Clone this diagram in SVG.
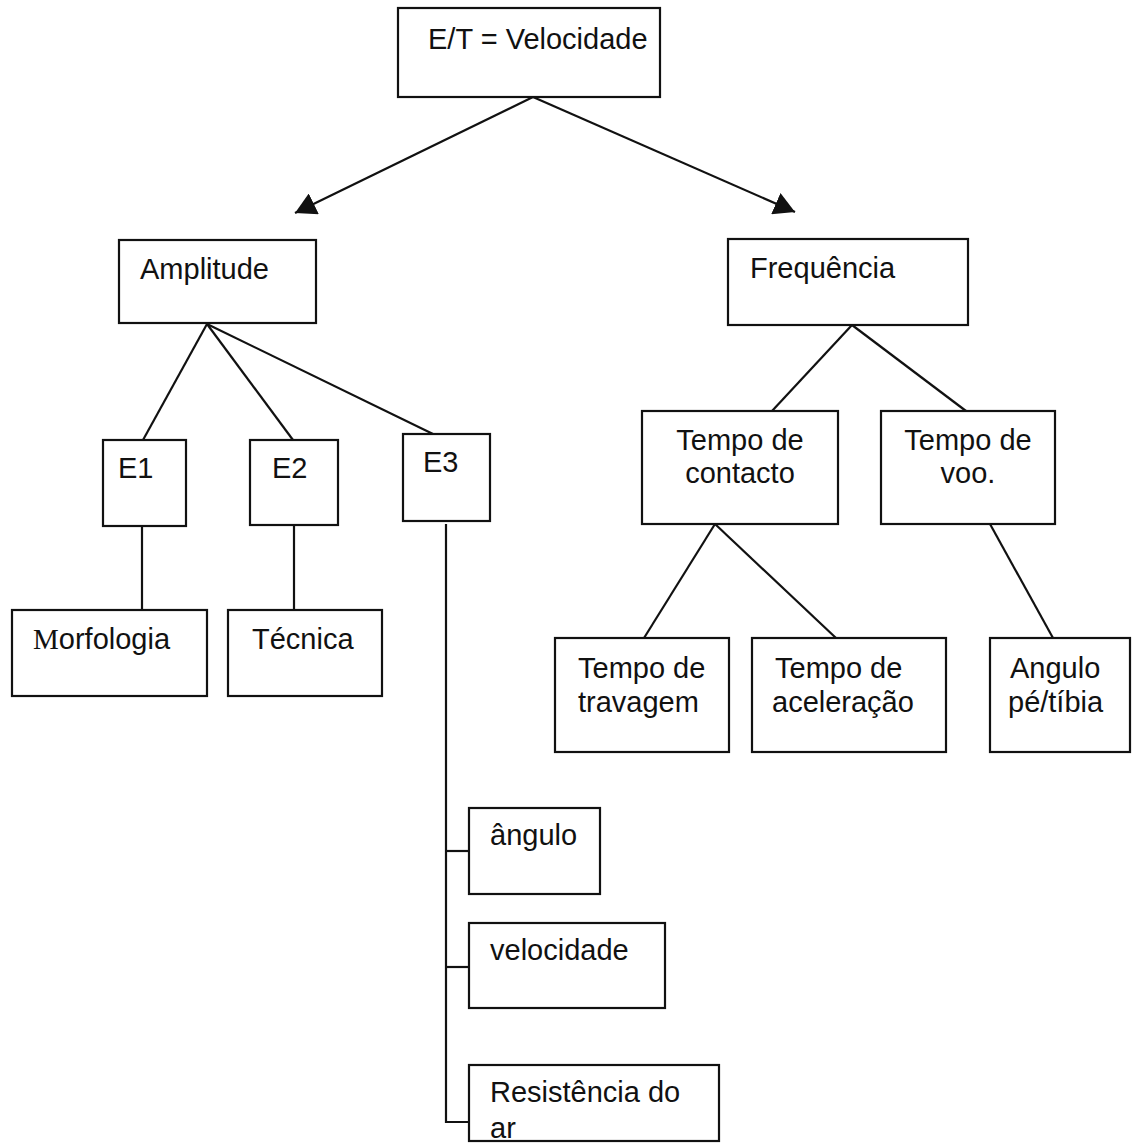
<svg xmlns="http://www.w3.org/2000/svg" width="1141" height="1148" viewBox="0 0 1141 1148">
<style>
rect.n{fill:#fff;stroke:#111;stroke-width:2.2}
text{font-family:"Liberation Sans",Arial,sans-serif;font-size:29px;fill:#111}
.c line,.c polyline{stroke:#111;stroke-width:2.2;fill:none}
.serif{font-family:"Liberation Serif","Times New Roman",serif}
</style>
<defs>
<marker id="ah" viewBox="0 0 20 22" refX="20" refY="11" markerWidth="21" markerHeight="23" markerUnits="userSpaceOnUse" orient="auto">
<path d="M0,0 L20,11 L0,22 Z" fill="#111"/>
</marker>
</defs>
<rect width="1141" height="1148" fill="#fff"/>
<g class="c">
<line x1="533" y1="97" x2="295" y2="213" marker-end="url(#ah)"/>
<line x1="533" y1="97" x2="795" y2="212" marker-end="url(#ah)"/>
<line x1="207" y1="324" x2="143" y2="440"/>
<line x1="207" y1="324" x2="293" y2="440"/>
<line x1="207" y1="324" x2="433" y2="434"/>
<line x1="142" y1="526" x2="142" y2="610"/>
<line x1="294" y1="525" x2="294" y2="610"/>
<polyline points="446,524 446,1122 469,1122"/>
<line x1="446" y1="851" x2="469" y2="851"/>
<line x1="446" y1="967" x2="469" y2="967"/>
<line x1="852" y1="325" x2="772" y2="411"/>
<line x1="852" y1="325" x2="966" y2="411"/>
<line x1="715" y1="524" x2="644" y2="638"/>
<line x1="715" y1="524" x2="836" y2="638"/>
<line x1="990" y1="524" x2="1053" y2="638"/>
</g>
<g id="n-top"><rect class="n" x="398" y="8" width="262" height="89"/><text x="428" y="49">E/T = Velocidade</text></g>
<g id="n-amplitude"><rect class="n" x="119" y="240" width="197" height="83"/><text x="140" y="279">Amplitude</text></g>
<g id="n-frequencia"><rect class="n" x="728" y="239" width="240" height="86"/><text x="750" y="278">Frequência</text></g>
<g id="n-e1"><rect class="n" x="103" y="440" width="83" height="86"/><text x="118" y="478">E1</text></g>
<g id="n-e2"><rect class="n" x="250" y="440" width="88" height="85"/><text x="272" y="478">E2</text></g>
<g id="n-e3"><rect class="n" x="403" y="434" width="87" height="87"/><text x="423" y="472">E3</text></g>
<g id="n-morfologia"><rect class="n" x="12" y="610" width="195" height="86"/><text x="33" y="649"><tspan class="serif">M</tspan>orfologia</text></g>
<g id="n-tecnica"><rect class="n" x="228" y="610" width="154" height="86"/><text x="252" y="649">Técnica</text></g>
<g id="n-contacto"><rect class="n" x="642" y="411" width="196" height="113"/><text x="740" y="450" text-anchor="middle">Tempo de<tspan x="740" dy="33">contacto</tspan></text></g>
<g id="n-voo"><rect class="n" x="881" y="411" width="174" height="113"/><text x="968" y="450" text-anchor="middle">Tempo de<tspan x="968" dy="33">voo.</tspan></text></g>
<g id="n-travagem"><rect class="n" x="555" y="638" width="174" height="114"/><text x="578" y="678">Tempo de<tspan x="578" dy="34">travagem</tspan></text></g>
<g id="n-aceleracao"><rect class="n" x="752" y="638" width="194" height="114"/><text x="775" y="678">Tempo de<tspan x="772" dy="34">aceleração</tspan></text></g>
<g id="n-angulo-pe"><rect class="n" x="990" y="638" width="140" height="114"/><text x="1010" y="678">Angulo<tspan x="1008" dy="34">pé/tíbia</tspan></text></g>
<g id="n-angulo"><rect class="n" x="469" y="808" width="131" height="86"/><text x="490" y="845">ângulo</text></g>
<g id="n-velocidade"><rect class="n" x="469" y="923" width="196" height="85"/><text x="490" y="960">velocidade</text></g>
<g id="n-resistencia"><rect class="n" x="469" y="1065" width="250" height="76"/><text x="490" y="1102">Resistência do<tspan x="490" dy="36">ar</tspan></text></g>
</svg>
